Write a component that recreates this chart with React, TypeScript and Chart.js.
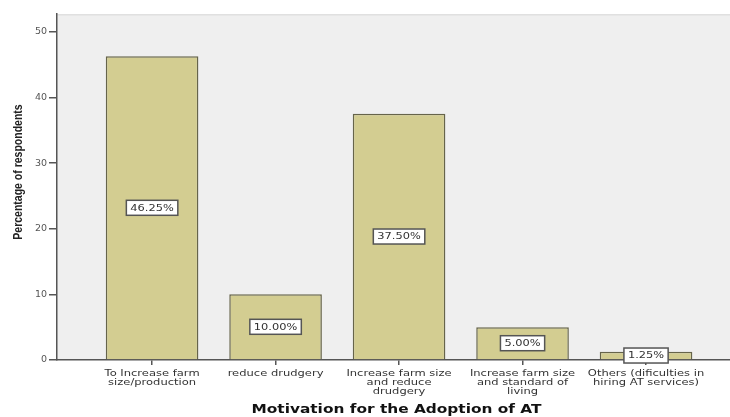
import React, { useEffect, useRef } from 'react';
import { Chart, registerables } from 'chart.js';

Chart.register(...registerables);

const categories: string[][] = [
  ['To Increase farm', 'size/production'],
  ['reduce drudgery'],
  ['Increase farm size', 'and reduce', 'drudgery'],
  ['Increase farm size', 'and standard of', 'living'],
  ['Others (dificulties in', 'hiring AT services)'],
];
const values = [46.25, 10.0, 37.5, 5.0, 1.25];
const valueLabels = ['46.25%', '10.00%', '37.50%', '5.00%', '1.25%'];
const yTicks = [0, 10, 20, 30, 40, 50];
const xTitle = 'Motivation for the Adoption of AT';
const yTitle = 'Percentage of respondents';

const STRETCH = 1.28;

const bgPlugin = {
  id: 'plotBg',
  beforeDraw(chart: any) {
    const { ctx, chartArea } = chart;
    ctx.save();
    ctx.fillStyle = '#efefef';
    ctx.fillRect(chartArea.left, chartArea.top, chartArea.right - chartArea.left, chartArea.bottom - chartArea.top);
    ctx.fillStyle = '#e0e0e0';
    ctx.fillRect(chartArea.left, chartArea.top, chartArea.right - chartArea.left, 1.5);
    ctx.restore();
  },
};

const labelPlugin = {
  id: 'valueLabels',
  afterDatasetsDraw(chart: any) {
    const { ctx } = chart;
    const meta = chart.getDatasetMeta(0);
    ctx.save();
    ctx.font = '9.5px "DejaVu Sans"';
    ctx.textAlign = 'center';
    ctx.textBaseline = 'middle';
    meta.data.forEach((bar: any, i: number) => {
      const cx = bar.x;
      const cy = (bar.y + bar.base) / 2;
      const text = valueLabels[i];
      const w = ctx.measureText(text).width * 1.2 + 8;
      const h = 15;
      ctx.fillStyle = '#ffffff';
      ctx.fillRect(cx - w / 2, cy - h / 2, w, h);
      ctx.strokeStyle = '#555555';
      ctx.lineWidth = 1.5;
      ctx.strokeRect(cx - w / 2, cy - h / 2, w, h);
      ctx.fillStyle = '#333333';
      ctx.save();
      ctx.translate(cx, cy + 0.5);
      ctx.scale(1.2, 1);
      ctx.fillText(text, 0, 0);
      ctx.restore();
    });
    ctx.restore();
  },
};

const textPlugin = {
  id: 'axisTexts',
  afterDraw(chart: any) {
    const { ctx, chartArea } = chart;
    const xs = chart.scales.x;
    ctx.save();
    // category labels
    ctx.font = '9px "DejaVu Sans"';
    ctx.fillStyle = '#333333';
    ctx.textAlign = 'center';
    ctx.textBaseline = 'middle';
    categories.forEach((lines, i) => {
      const px = xs.getPixelForValue(i);
      lines.forEach((line, j) => {
        ctx.save();
        ctx.translate(px, xs.top + 13.5 + j * 9);
        ctx.scale(STRETCH, 1);
        ctx.fillText(line, 0, 0);
        ctx.restore();
      });
    });
    // x title
    ctx.font = 'bold 12px "DejaVu Sans"';
    ctx.fillStyle = '#111111';
    ctx.save();
    ctx.translate((chartArea.left + chartArea.right) / 2 + 3, 410);
    ctx.scale(STRETCH, 1);
    ctx.fillText(xTitle, 0, 0);
    ctx.restore();
    // y title
    ctx.font = 'bold 10.5px "Liberation Sans"';
    ctx.fillStyle = '#222222';
    ctx.save();
    ctx.translate(18.5, 172);
    ctx.rotate(-Math.PI / 2);
    ctx.scale(1, 1.2);
    ctx.fillText(yTitle, 0, 0);
    ctx.restore();
    ctx.restore();
  },
};

export default function App() {
  const ref = useRef<HTMLCanvasElement | null>(null);

  useEffect(() => {
    document.body.style.margin = '0';
    if (!ref.current) return;
    const chart = new Chart(ref.current, {
      type: 'bar',
      data: {
        datasets: [
          {
            data: values.map((v, i) => ({ x: i, y: v })),
            backgroundColor: '#d3cd91',
            borderColor: '#66644a',
            borderWidth: 1.5,
            barPercentage: 0.75,
            categoryPercentage: 1,
          },
        ],
      },
      options: {
        animation: false,
        responsive: true,
        maintainAspectRatio: false,
        layout: { padding: { top: 14, right: 0, left: 0, bottom: 0 } },
        plugins: {
          legend: { display: false },
          tooltip: { enabled: false },
        },
        scales: {
          x: {
            type: 'linear',
            offset: false,
            bounds: 'data',
            min: -0.77,
            max: 4.68,
            afterBuildTicks: (scale: any) => {
              scale.ticks = categories.map((_, i) => ({ value: i }));
            },
            afterFit: (scale: any) => {
              scale.height = 57;
            },
            ticks: {
              display: false,
              autoSkip: false,
              maxRotation: 0,
              minRotation: 0,
            },
            grid: { offset: false, drawOnChartArea: false, drawTicks: true, tickLength: 5, color: '#555555', lineWidth: 1.5 },
            border: { display: true, color: '#555555', width: 1.5 },
            title: { display: false },
          },
          y: {
            min: 0,
            max: 52.7,
            afterBuildTicks: (scale: any) => {
              scale.ticks = yTicks.map((v) => ({ value: v }));
            },
            afterFit: (scale: any) => {
              scale.width = 57;
            },
            ticks: {
              padding: 2,
              color: '#555555',
              font: { family: '"DejaVu Sans"', size: 9.5 },
            },
            grid: { drawOnChartArea: false, drawTicks: true, tickLength: 8, color: '#555555', lineWidth: 1.5 },
            border: { display: true, color: '#555555', width: 1.5 },
          },
        },
      },
      plugins: [bgPlugin, labelPlugin, textPlugin],
    } as any);
    return () => chart.destroy();
  }, []);

  return (
    <div style={{ position: 'relative', width: 730, height: 417 }}>
      <canvas ref={ref} />
    </div>
  );
}
